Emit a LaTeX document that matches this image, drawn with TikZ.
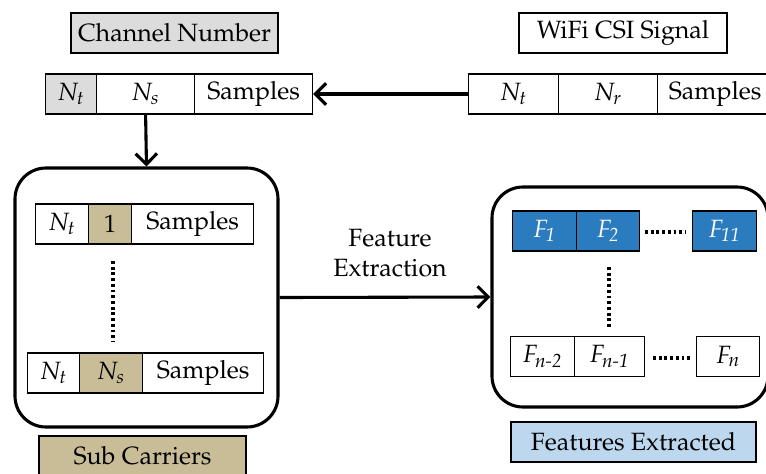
\documentclass[tikz,border=0pt]{standalone}
\usepackage[T1]{fontenc}
\usepackage{mathpazo}
\usepackage{amsmath}
\usetikzlibrary{arrows.meta,positioning}

\definecolor{chgray}{HTML}{DCDCDC}
\definecolor{subtan}{HTML}{C9BD98}
\definecolor{featblue}{HTML}{2B7BBF}
\definecolor{featlight}{HTML}{BDD7EE}

\tikzset{
  cellw/.style={minimum width=#1*0.42pt},
  cell/.style={draw, line width=0.5pt, minimum height=40*0.42pt, inner sep=0pt, anchor=west},
  title/.style={draw, line width=0.5pt, minimum height=40*0.42pt, inner sep=0pt},
  group/.style={draw, line width=1.3pt, rounded corners=13pt, inner sep=0pt},
  flow/.style={-{Straight Barb[length=4.5pt,width=9pt]}, line width=1.3pt},
  dots/.style={line width=1.5pt, dash pattern=on 1.2pt off 1.2pt}
}

\begin{document}
\begin{tikzpicture}[x=0.42pt, y=-0.42pt, font=\fontsize{10.5}{12.6}\selectfont]
    \clip (0,0) rectangle (766,473);

    % Titles
    \node[title, fill=chgray, cellw=207] (chan) at (174.5,33) {Channel Number};
    \node[title, cellw=208] (wifi) at (623,33) {WiFi CSI Signal};

    % Channel number row
    \node[cell, fill=chgray, cellw=51] (cnt) at (45,94) {$N_t$};
    \node[cell, cellw=98] (cns) at (96,94) {$N_s$};
    \node[cell, cellw=118] (csamp) at (194,94) {Samples};

    % Raw CSI row
    \node[cell, cellw=90] (wnt) at (468,94) {$N_t$};
    \node[cell, cellw=99] (wnr) at (558,94) {$N_r$};
    \node[cell, cellw=115] (wsamp) at (657,94) {Samples};

    % Sub carrier group
    \node[group, minimum width=263*0.42pt, minimum height=259*0.42pt] (subbox) at (146.5,297.5) {};
    \node[cell, cellw=53] (snta) at (35,224) {$N_t$};
    \node[cell, fill=subtan, cellw=43] (sone) at (88,224) {1};
    \node[cell, cellw=122] (ssampa) at (131,224) {Samples};
    \draw[dots] (113,261) -- (113,342);
    \node[cell, cellw=52] (sntb) at (27,373) {$N_t$};
    \node[cell, fill=subtan, cellw=63] (sns) at (79,373) {$N_s$};
    \node[cell, cellw=121] (ssampb) at (142,373) {Samples};
    \node[title, fill=subtan, cellw=207] (subc) at (142.5,456) {Sub Carriers};

    % Feature group
    \node[group, minimum width=276*0.42pt, minimum height=220*0.42pt] (featbox) at (630,297) {};
    \node[cell, fill=featblue, text=white, cellw=64] (fa) at (512,231) {$F_{\textit{1}}$};
    \node[cell, fill=featblue, text=white, cellw=63] (fb) at (576,231) {$F_{\textit{2}}$};
    \node[cell, fill=featblue, text=white, cellw=64] (fk) at (692,231) {$F_{\textit{11}}$};
    \draw[dots] (645,232) -- (686,232);
    \draw[dots] (609,267) -- (609,327);
    \node[cell, cellw=64] (fnb) at (510,356.5) {$F_{\textit{n-2}}$};
    \node[cell, cellw=70] (fna) at (574,356.5) {$F_{\textit{n-1}}$};
    \node[cell, cellw=63] (fn) at (696,356.5) {$F_{\textit{n}}$};
    \draw[dots] (653,358) -- (692,358);
    \node[title, fill=featlight, cellw=245] (featx) at (633.5,442) {Features Extracted};

    % Flow
    \draw[flow] (wnt.west) -- (csamp.east);
    \draw[flow] (cns.south) -- (subbox.north);
    \draw[flow] (subbox.east) -- (featbox.west);
    \node[align=center] (fxlabel) at (390,253) {Feature\\Extraction};
\end{tikzpicture}
\end{document}
